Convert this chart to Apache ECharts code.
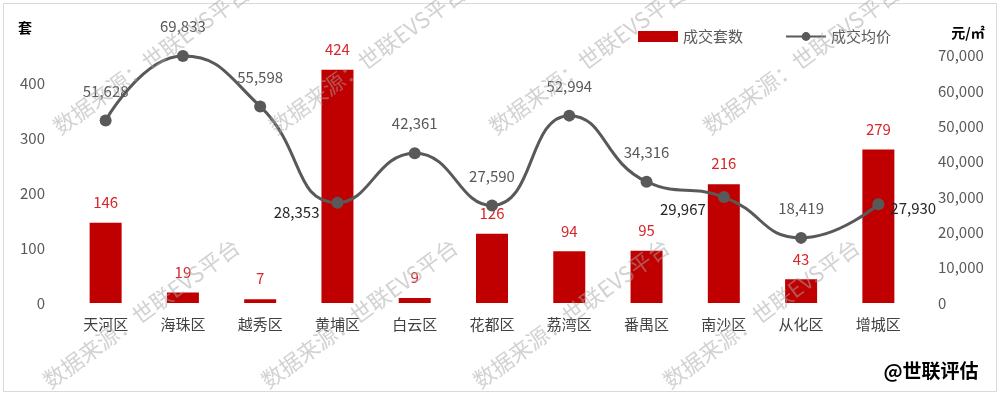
<!DOCTYPE html>
<html><head><meta charset="utf-8">
<script src="https://cdn.jsdelivr.net/npm/echarts@6/dist/echarts.min.js"></script>
<style>html,body{margin:0;padding:0;background:#fff}#c{width:1000px;height:395px}</style>
</head><body><div id="c"></div>
<script>
const categories = ['天河区','海珠区','越秀区','黄埔区','白云区','花都区','荔湾区','番禺区','南沙区','从化区','增城区'];
const units = [146, 19, 7, 424, 9, 126, 94, 95, 216, 43, 279];
const prices = [51628, 69833, 55598, 28353, 42361, 27590, 52994, 34316, 29967, 18419, 27930];
const leftTicks = [0, 100, 200, 300, 400];
const rightTicks = [0, 10000, 20000, 30000, 40000, 50000, 60000, 70000];

const FONT = '"Noto Sans CJK SC", "Noto Sans", sans-serif';
const fmt = v => v.toLocaleString('en-US');

// special label placements for a few line points
const special = {
  3: {position: 'left', distance: 12, dy: 10},
  8: {position: 'left', distance: 12, dy: 12},
  10: {position: 'right', distance: 6, dy: 4}
};
const lineData = prices.map((v, i) => {
  const s = special[i];
  if (!s) return v;
  return {value: v, label: {position: s.position, distance: s.distance, offset: [0, s.dy], color: '#262626'}};
});

const wm = '数据来源：世联EVS平台';
const wmPos = [[62,138],[278,138],[498,138],[712,138],[52,392],[270,392],[482,392],[672,392]];
const graphics = [{
  type: 'rect', shape: {x: 3.5, y: 3.5, width: 993, height: 388},
  style: {fill: 'none', stroke: '#d9d9d9', lineWidth: 1}, silent: true, z: -1
}];
wmPos.forEach(p => graphics.push({
  type: 'text', x: p[0], y: p[1], rotation: 36 * Math.PI / 180, z: 100, silent: true,
  style: {text: wm, font: '22px ' + FONT, fill: 'rgba(165,165,165,0.5)', textAlign: 'left', textVerticalAlign: 'bottom'}
}));
graphics.push({type: 'text', x: 25, y: 28, style: {text: '套', font: 'bold 14px ' + FONT, fill: '#000', textAlign: 'center', textVerticalAlign: 'middle'}});
graphics.push({type: 'text', x: 968, y: 33, style: {text: '元/㎡', font: 'bold 14px ' + FONT, fill: '#000', textAlign: 'center', textVerticalAlign: 'middle'}});
graphics.push({type: 'text', x: 931, y: 371, style: {text: '@世联评估', font: 'bold 19px ' + FONT, fill: '#000', textAlign: 'center', textVerticalAlign: 'middle'}});

const chart = echarts.init(document.getElementById('c'), null, {renderer: 'canvas'});
chart.setOption({
  animation: false,
  textStyle: {fontFamily: FONT},
  grid: {left: 67, right: 83, top: 55.5, bottom: 92, containLabel: false},
  legend: {
    left: 633, top: 24, itemGap: 42, itemWidth: 40, itemHeight: 11,
    textStyle: {fontSize: 15, color: '#595959', fontFamily: FONT},
    data: [{name: '成交套数', icon: 'rect'}, {name: '成交均价'}]
  },
  xAxis: {
    type: 'category', data: categories,
    axisLine: {show: false}, axisTick: {show: false},
    axisLabel: {fontSize: 15, color: '#404040', margin: 14, fontFamily: FONT}
  },
  yAxis: [{
    type: 'value', min: 0, max: 450, interval: 100,
    splitLine: {show: false}, axisLine: {show: false}, axisTick: {show: false},
    axisLabel: {fontSize: 15, color: '#595959', margin: 22, showMaxLabel: false,
      formatter: v => leftTicks.includes(v) ? String(v) : ''}
  }, {
    type: 'value', min: 0, max: 70000, interval: 10000,
    splitLine: {show: false}, axisLine: {show: false}, axisTick: {show: false},
    axisLabel: {fontSize: 15, color: '#595959', margin: 21,
      formatter: v => rightTicks.includes(v) ? fmt(v) : ''}
  }],
  series: [{
    name: '成交套数', type: 'bar', data: units, barWidth: 32, yAxisIndex: 0,
    itemStyle: {color: '#C00000'},
    label: {show: true, position: 'top', distance: 13, color: '#D9262B', fontSize: 15, fontFamily: FONT}
  }, {
    name: '成交均价', type: 'line', data: lineData, yAxisIndex: 1, smooth: 0.5,
    symbol: 'circle', symbolSize: 12,
    lineStyle: {color: '#595959', width: 3}, itemStyle: {color: '#595959'},
    label: {show: true, position: 'top', distance: 16, color: '#595959', fontSize: 15, fontFamily: FONT,
      formatter: p => fmt(p.value)},
    z: 5
  }],
  graphic: graphics
});
</script></body></html>
